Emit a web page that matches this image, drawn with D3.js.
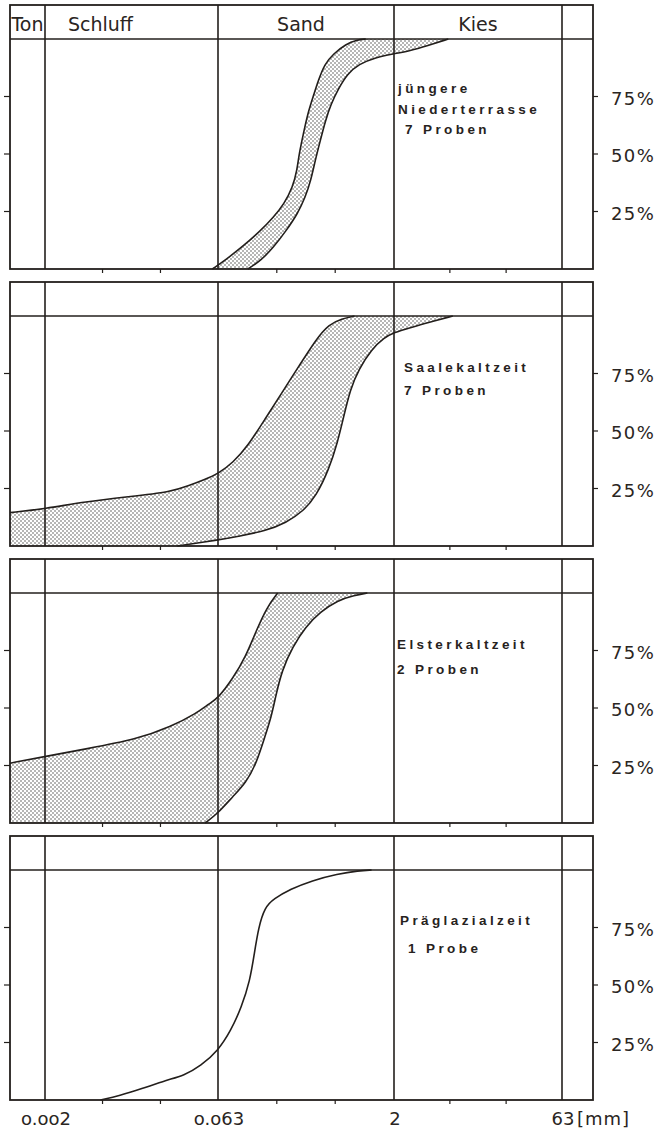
<!DOCTYPE html>
<html>
<head>
<meta charset="utf-8">
<script src="https://cdn.jsdelivr.net/npm/d3@7"></script>
<style>
  html, body { margin: 0; padding: 0; background: #fff; }
  svg { display: block; }
  .ink { stroke: #231f1c; fill: none; }
  .axis-text { font-family: "DejaVu Sans", sans-serif; fill: #2a2522; }
  .title-text { font-family: "Liberation Sans", Arial, sans-serif; font-weight: bold; fill: #262220; }
</style>
</head>
<body>
<script>
// Grain-size classes and their boundaries (mm)
const classNames = ["Ton", "Schluff", "Sand", "Kies"];
const classBounds = [0.002, 0.063, 2, 63];
const boundLabels = ["o.oo2", "o.o63", "2", "63"];
const unitLabel = "[mm]";
const subTicks = [0.0063, 0.02, 0.2, 0.63, 6.3, 20];
const percentTicks = [25, 50, 75];

// Panel titles
const panelTitles = [
  ["jüngere", "Niederterrasse", "7 Proben"],
  ["Saalekaltzeit", "7 Proben"],
  ["Elsterkaltzeit", "2 Proben"],
  ["Präglazialzeit", "1 Probe"]
];

// Cumulative curves: [grain size mm, cumulative %]
// envelope "fine" = finest sample, "coarse" = coarsest sample
const niederFine = [[0.0563,0],[0.0745,4.3],[0.1042,10.1],[0.1457,16.7],[0.1874,22.5],[0.231,28.3],[0.2731,35.5],[0.2971,42.8],[0.3098,50],[0.3369,58.7],[0.3663,67.4],[0.4154,76.1],[0.4517,81.9],[0.5123,89.1],[0.6058,93.5],[0.7789,97.8],[0.96,99.6],[1.15,100]];
const niederCoarse = [[0.1132,0],[0.1457,3.6],[0.1874,9.4],[0.2408,16.7],[0.3,23.9],[0.35,31.2],[0.39,38.4],[0.425,47.1],[0.47,55.8],[0.52,64.5],[0.58,71.7],[0.67,78.3],[0.8,84.8],[1.0,89.1],[1.398,92.0],[1.956,93.5],[2.79,94.9],[3.96,97.1],[6.1,100]];

const saaleFine = [[0.001,14.5],[0.002,16.2],[0.00449,19.3],[0.01053,21.4],[0.02467,23.5],[0.0347,26.1],[0.0488,29.0],[0.063,31.4],[0.0845,36.2],[0.1133,43.5],[0.1584,55.1],[0.2215,66.7],[0.3098,78.3],[0.4331,89.9],[0.5568,96.4],[0.7164,98.8],[0.921,100]];
const saaleCoarse = [[0.028,0],[0.063,2.6],[0.0958,4.3],[0.1584,6.5],[0.2408,10.1],[0.3369,15.2],[0.4331,21.7],[0.5568,33.3],[0.6587,44.9],[0.7469,56.5],[0.847,68.1],[1.0,76.8],[1.286,85.5],[1.653,90.6],[2,92.8],[2.79,94.9],[3.96,97.1],[6.69,100]];

const elsterFine = [[0.001,26.0],[0.002,28.9],[0.00449,32.2],[0.01248,36.4],[0.02467,41.9],[0.0411,47.7],[0.0531,52.0],[0.063,54.2],[0.0845,62.9],[0.1086,72.3],[0.134,83.8],[0.1652,93.9],[0.2037,100]];
const elsterCoarse = [[0.0488,0],[0.063,4.3],[0.0845,11.6],[0.1086,17.3],[0.134,26.0],[0.1584,37.6],[0.1796,46.2],[0.1953,54.9],[0.2215,66.5],[0.2731,76.6],[0.3512,85.3],[0.4711,91.8],[0.6587,96.8],[0.921,99.0],[1.185,100]];

const praeglazial = [[0.00605,0],[0.00888,1.9],[0.0136,4.8],[0.0227,8.7],[0.0319,10.6],[0.0448,14.9],[0.063,21.4],[0.081,30.1],[0.0999,40.3],[0.1181,51.9],[0.1285,63.5],[0.1397,75.1],[0.1584,83.8],[0.1874,87.4],[0.2619,91.7],[0.3983,95.4],[0.6587,98.3],[1.0,99.7],[1.288,100]];

const panelCurves = [
  { fine: niederFine, coarse: niederCoarse },
  { fine: saaleFine, coarse: saaleCoarse },
  { fine: elsterFine, coarse: elsterCoarse },
  { single: praeglazial }
];

// ---- layout ----
const W = 671, H = 1131;
const frameL = 10, frameR = 593;
const panelStep = 277, firstTop = 5, headerH = 34, plotH = 230;
const titleX = [4, 10, 3, 6];
const titleIndent = [[0, 0, 7], [0, 0], [0, 0], [0, 8]];
const titleLines = [[54, 75, 95], [56, 79], [56, 81], [55, 83]];

const svg = d3.select("body").append("svg")
  .attr("width", W).attr("height", H);

const defs = svg.append("defs");
const pat = defs.append("pattern")
  .attr("id", "stipple").attr("patternUnits", "userSpaceOnUse")
  .attr("width", 4).attr("height", 4);
pat.append("rect").attr("width", 4).attr("height", 4).attr("fill", "#fff");
pat.append("circle").attr("cx", 1).attr("cy", 1).attr("r", 0.75).attr("fill", "#4a4846");
pat.append("circle").attr("cx", 3).attr("cy", 3).attr("r", 0.75).attr("fill", "#4a4846");

// logarithmic grain-size axis, piecewise between class boundaries
const x = d3.scaleLog()
  .domain([0.001, ...classBounds, 100])
  .range([frameL, 45, 218, 394, 562, frameR]);

const curve = d3.curveBasis;

panelCurves.forEach((pc, i) => {
  const top = firstTop + i * panelStep;
  const headY = top + headerH;
  const bottom = headY + plotH;
  const y = d3.scaleLinear().domain([0, 100]).range([bottom, headY]);
  const g = svg.append("g");

  const line = d3.line().x(d => x(d[0])).y(d => y(d[1])).curve(curve);

  // shaded envelope between finest and coarsest sample
  if (pc.fine) {
    const f = pc.fine, c = pc.coarse.slice().reverse();
    let d = "";
    if (f[0][1] > 0) {
      d = `M${x(f[0][0])},${y(0)}` + line(f).replace(/^M/, "L");
    } else {
      d = line(f);
    }
    d += line(c).replace(/^M/, "L") + "Z";
    g.append("path").attr("d", d).attr("fill", "url(#stipple)").attr("stroke", "none");
    g.append("path").attr("class", "ink").attr("d", line(pc.fine)).attr("stroke-width", 1.6);
    g.append("path").attr("class", "ink").attr("d", line(pc.coarse)).attr("stroke-width", 1.6);
  } else {
    g.append("path").attr("class", "ink").attr("d", line(pc.single)).attr("stroke-width", 1.6);
  }

  // frame, header separator, class boundaries
  g.append("rect").attr("class", "ink")
    .attr("x", frameL).attr("y", top)
    .attr("width", frameR - frameL).attr("height", bottom - top)
    .attr("stroke-width", 1.8);
  g.append("line").attr("class", "ink")
    .attr("x1", frameL).attr("x2", frameR).attr("y1", headY).attr("y2", headY)
    .attr("stroke-width", 1.7);
  g.selectAll(".bound").data(classBounds).join("line")
    .attr("class", "ink bound")
    .attr("x1", d => x(d)).attr("x2", d => x(d))
    .attr("y1", top).attr("y2", bottom)
    .attr("stroke-width", 1.6);

  // subdivision ticks below the panel
  g.selectAll(".sub").data(subTicks).join("line")
    .attr("class", "ink sub")
    .attr("x1", d => x(d)).attr("x2", d => x(d))
    .attr("y1", bottom).attr("y2", bottom + 4)
    .attr("stroke-width", 1.2);

  // percent ticks on both sides
  g.selectAll(".lt").data(percentTicks).join("line")
    .attr("class", "ink lt")
    .attr("x1", frameL - 6).attr("x2", frameL)
    .attr("y1", d => y(d)).attr("y2", d => y(d))
    .attr("stroke-width", 1.2);
  g.selectAll(".rt").data(percentTicks).join("line")
    .attr("class", "ink rt")
    .attr("x1", frameR).attr("x2", frameR + 5)
    .attr("y1", d => y(d)).attr("y2", d => y(d))
    .attr("stroke-width", 1.2);
  g.selectAll(".pl").data(percentTicks).join("text")
    .attr("class", "axis-text pl")
    .attr("x", 611).attr("y", d => y(d) + 8)
    .attr("font-size", 18).attr("letter-spacing", 1.4)
    .text(d => d + "%");

  // panel title
  const t = g.append("text").attr("class", "title-text")
    .attr("font-size", 13.5).attr("letter-spacing", 3.4);
  panelTitles[i].forEach((s, k) => {
    t.append("tspan")
      .attr("x", x(2) + titleX[i] + titleIndent[i][k])
      .attr("y", headY + titleLines[i][k])
      .text(s);
  });

  // class names in the first header
  if (i === 0) {
    const headerText = g.append("g").attr("class", "axis-text").attr("font-size", 19);
    const lims = [0.001, ...classBounds];
    classNames.forEach((name, k) => {
      const a = x(lims[k]), b = x(lims[k + 1]);
      let cx = (a + b) / 2, anchor = "middle";
      if (name === "Schluff") { cx = a + 23; anchor = "start"; }
      if (name === "Sand") { cx = cx - 5; }
      headerText.append("text")
        .attr("x", cx).attr("y", top + 26)
        .attr("text-anchor", anchor)
        .text(name);
    });
  }

  // boundary labels under the last panel
  if (i === panelCurves.length - 1) {
    g.selectAll(".bl").data(classBounds).join("text")
      .attr("class", "axis-text bl")
      .attr("x", d => x(d) + 1).attr("y", bottom + 25)
      .attr("text-anchor", "middle").attr("font-size", 18)
      .text((d, k) => boundLabels[k]);
    g.append("text").attr("class", "axis-text")
      .attr("x", x(63) + 15).attr("y", bottom + 25)
      .attr("font-size", 18).attr("letter-spacing", 1)
      .text(unitLabel);
  }
});
</script>
</body>
</html>
